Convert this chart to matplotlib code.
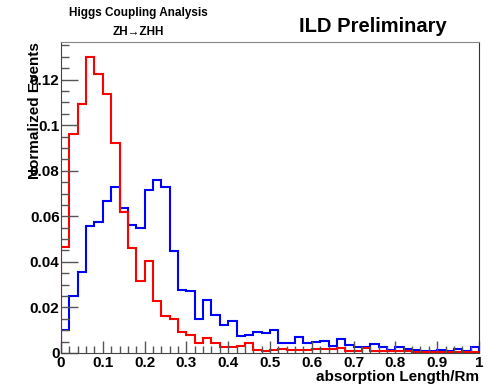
import numpy as np
import matplotlib.pyplot as plt
from matplotlib.ticker import MultipleLocator

plt.rcParams['font.family'] = ['Liberation Sans', 'DejaVu Sans']

# 50 bins of width 0.02 between 0 and 1
edges = np.linspace(0.0, 1.0, 51)

# signal-like (red) histogram, normalized
red = [0.0465, 0.0963, 0.1093, 0.1300, 0.1226, 0.1137, 0.0923, 0.0621, 0.0460, 0.0318,
       0.0403, 0.0230, 0.0164, 0.0148, 0.0091, 0.0079, 0.0042, 0.0064, 0.0042, 0.0028,
       0.0025, 0.0031, 0.0042, 0.0013, 0.0009, 0.0012, 0.0019, 0.0013, 0.0013, 0.0012,
       0.0016, 0.0016, 0.0016, 0.0023, 0.0010, 0.0010, 0.0020, 0.0009, 0.0009, 0.0009,
       0.0009, 0.0009, 0.0005, 0.0005, 0.0005, 0.0005, 0.0005, 0.0006, 0.0006, 0.0005]

# background-like (blue) histogram, normalized
blue = [0.0101, 0.0248, 0.0357, 0.0558, 0.0574, 0.0667, 0.0728, 0.0636, 0.0563, 0.0547,
        0.0716, 0.0760, 0.0730, 0.0447, 0.0278, 0.0271, 0.0151, 0.0232, 0.0166, 0.0122,
        0.0139, 0.0076, 0.0080, 0.0091, 0.0086, 0.0100, 0.0045, 0.0042, 0.0069, 0.0044,
        0.0048, 0.0051, 0.0032, 0.0060, 0.0033, 0.0028, 0.0028, 0.0040, 0.0028, 0.0013,
        0.0028, 0.0019, 0.0013, 0.0010, 0.0010, 0.0013, 0.0009, 0.0016, 0.0010, 0.0026]

fig = plt.figure(figsize=(4.87, 3.87), dpi=100)
ax = fig.add_axes([61/487, 34/387, 418/487, 311/387])

ax.stairs(blue, edges, color='#0000ff', linewidth=1.5)
ax.stairs(red, edges, color='#ff0000', linewidth=1.5)

ax.set_xlim(0, 1)
ax.set_ylim(0, 0.1365)

# ROOT-like ticks
ax.xaxis.set_major_locator(MultipleLocator(0.1))
ax.xaxis.set_minor_locator(MultipleLocator(0.02))
ax.yaxis.set_major_locator(MultipleLocator(0.02))
ax.yaxis.set_minor_locator(MultipleLocator(0.005))
ax.tick_params(which='both', direction='in', top=False, right=False, color='#555555')
ax.tick_params(which='major', axis='x', length=9, width=1)
ax.tick_params(which='minor', axis='x', length=5, width=1)
ax.tick_params(which='major', axis='y', length=12, width=1)
ax.tick_params(which='minor', axis='y', length=6, width=1)
ax.tick_params(axis='x', pad=2)
ax.tick_params(axis='y', pad=1)

ax.set_xticks(np.arange(0, 1.01, 0.1))
ax.set_xticklabels(['0', '0.1', '0.2', '0.3', '0.4', '0.5', '0.6', '0.7', '0.8', '0.9', '1'])
ax.set_yticks(np.arange(0, 0.121, 0.02))
ax.set_yticklabels(['0', '0.02', '0.04', '0.06', '0.08', '0.1', '0.12'])
for lab in ax.get_xticklabels() + ax.get_yticklabels():
    lab.set_fontweight('bold')
    lab.set_fontsize(11)

for s in ['left', 'bottom']:
    ax.spines[s].set_color('#444444')
ax.spines['top'].set_color('#888888')
ax.spines['right'].set_color('#333333')

fig.text(479/487, 1 - 377/387, 'absorption Length/Rm', ha='right', va='center',
         fontsize=11, fontweight='bold')
fig.text(35/487, 1 - 42/387, 'Normalized Events', ha='center', va='top',
         rotation=90, fontsize=11, fontweight='bold')

fig.text(138/487, 1 - 13/387, 'Higgs Coupling Analysis', ha='center', va='center',
         fontsize=8.5, fontweight='bold')
fig.text(138/487, 1 - 32/387, 'ZH\u2192ZHH', ha='center', va='center',
         fontsize=8.5, fontweight='bold')
fig.text(373/487, 1 - 26/387, 'ILD Preliminary', ha='center', va='center',
         fontsize=14.5, fontweight='bold')

fig.savefig('out.png', dpi=100)
